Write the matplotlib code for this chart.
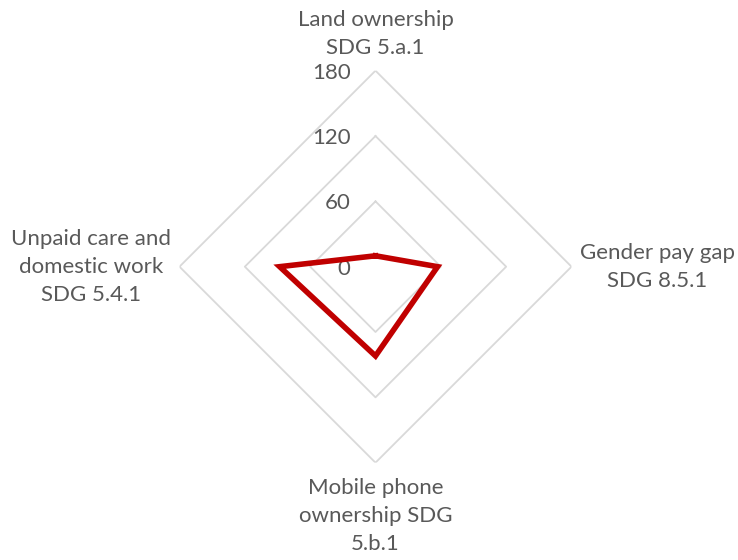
import numpy as np
import matplotlib.pyplot as plt

plt.rcParams['font.family'] = ['Lato', 'DejaVu Sans']

categories = ["Land ownership\nSDG 5.a.1",
              "Gender pay gap\nSDG 8.5.1",
              "Mobile phone\nownership SDG\n5.b.1",
              "Unpaid care and\ndomestic work\nSDG 5.4.1"]
values = [10, 57, 82, 88]
levels = [0, 60, 120, 180]

txt = "#595959"
grid = "#d9d9d9"

n = len(categories)
angles = np.linspace(0, 2 * np.pi, n, endpoint=False)
closed = np.append(angles, angles[0])

fig = plt.figure(figsize=(7.38, 5.6), dpi=100)
ax = fig.add_axes([0.2432, 0.1738, 0.5312, 0.70], projection='polar')
ax.set_theta_offset(np.pi / 2)
ax.set_theta_direction(-1)
ax.set_ylim(0, 180)
ax.grid(False)
ax.spines['polar'].set_visible(False)
ax.set_xticks([])
ax.set_yticks([])
ax.patch.set_alpha(0)

# diamond grid
for lv in levels[1:]:
    ax.plot(closed, [lv] * (n + 1), color=grid, lw=1.3, zorder=1)

# radial labels
for lv in levels:
    ax.annotate(str(lv), xy=(0, lv), xytext=(-18, -1.5), textcoords='offset points',
                ha='right', va='center', fontsize=16, color=txt)

# data
ax.plot(closed, values + values[:1], color="#c00000", lw=4, zorder=3,
        solid_joinstyle='miter')

# category labels
offs = [((0, 9), 'center', 'bottom'),
        ((6, 0), 'left', 'center'),
        ((0, -11), 'center', 'top'),
        ((-6, 0), 'right', 'center')]
for a, lab, (o, ha, va) in zip(angles, categories, offs):
    ax.annotate(lab, xy=(a, 180), xytext=o, textcoords='offset points',
                ha=ha, va=va, fontsize=16, color=txt, multialignment='center',
                linespacing=1.5)

fig.savefig("out.png", dpi=100)
